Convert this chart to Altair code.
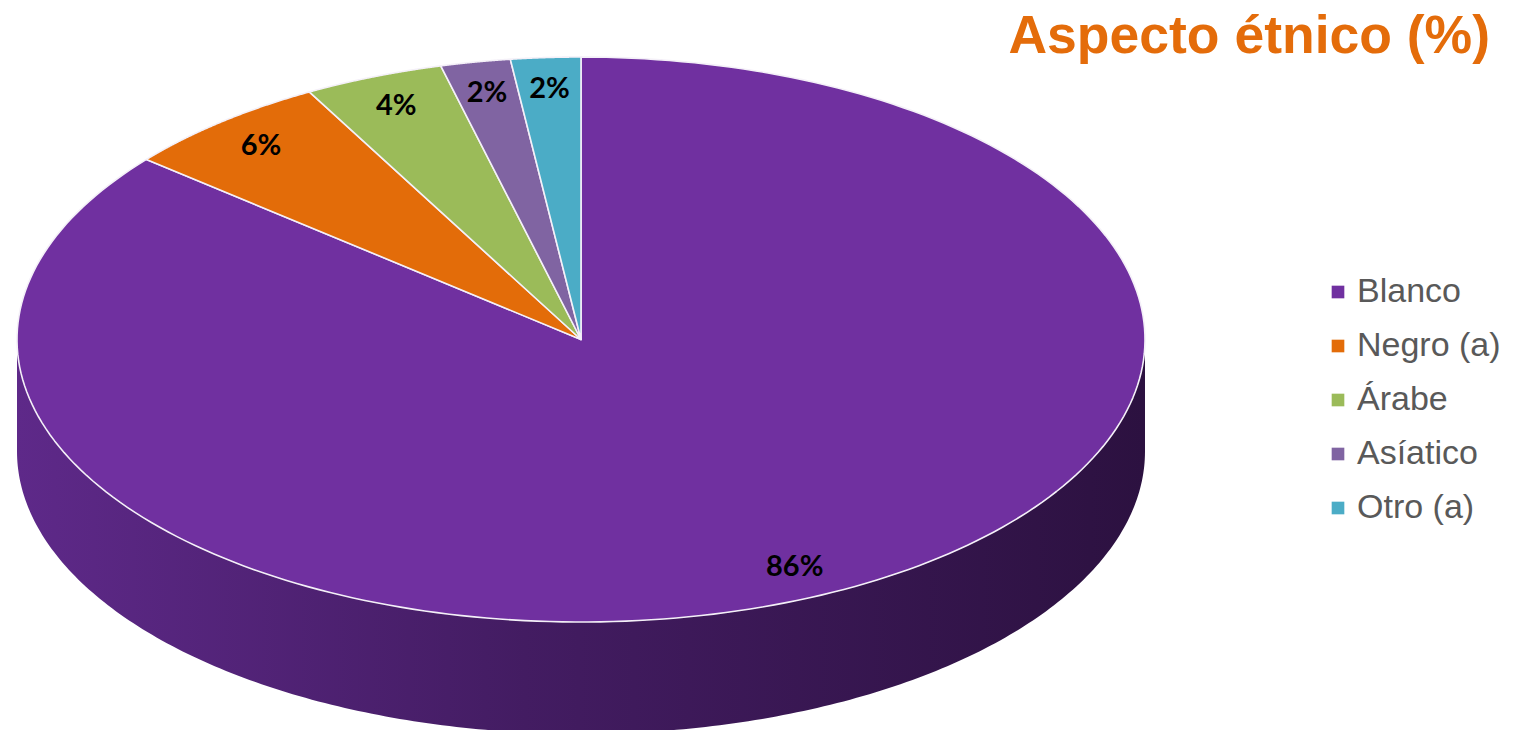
import altair as alt
import pandas as pd

# ---- data ----
categories = ["Blanco", "Negro (a)", "Árabe", "Asíatico", "Otro (a)"]
values = [86, 6, 4, 2, 2]
value_labels = ["86%", "6%", "4%", "2%", "2%"]
colors = ["#7030A0", "#E36C09", "#9BBB59", "#8064A2", "#4BACC6"]
title_text = "Aspecto étnico (%)"

df = pd.DataFrame({
    "cat": categories,
    "value": values,
    "label": value_labels,
    "ord": list(range(len(categories))),
})

# ---- layout parameters (ellipse drawn through scales) ----
W, H = 1502, 722
X_DOM = [-1.01596, 1.64716]
Y_DOM = [-1.3823, 1.1735]
DEPTH = 0.396
N = 240
LABEL_R = 0.89

xs = alt.Scale(domain=X_DOM, nice=False, zero=False)
ys = alt.Scale(domain=Y_DOM, nice=False, zero=False)
color_scale = alt.Scale(domain=categories, range=colors)

base = (
    alt.Chart(df)
    .transform_joinaggregate(total="sum(value)")
    .transform_window(cum="sum(value)", sort=[alt.SortField("ord", order="ascending")])
    .transform_calculate(
        a0="2*PI*(datum.cum - datum.value)/datum.total",
        a1="2*PI*datum.cum/datum.total",
    )
)

# side (3-D rim), only where the slice faces the viewer
side = (
    base.transform_calculate(
        s0="max(datum.a0, PI/2)",
        s1="min(datum.a1, 3*PI/2)",
    )
    .transform_filter("datum.s1 > datum.s0")
    .transform_calculate(seq=f"sequence(0, {N + 1})")
    .transform_flatten(["seq"], as_=["k"])
    .transform_calculate(
        ang=f"datum.s0 + (datum.s1 - datum.s0)*datum.k/{N}",
    )
    .transform_calculate(
        px="sin(datum.ang)",
        py="cos(datum.ang)",
        py2=f"cos(datum.ang) - {DEPTH}",
    )
    .mark_area(
        clip=True,
        color=alt.Gradient(
            gradient="linear",
            stops=[
                alt.GradientStop(color="#5e2989", offset=0),
                alt.GradientStop(color="#431c62", offset=0.45),
                alt.GradientStop(color="#2c1140", offset=1),
            ],
            x1=0, x2=1, y1=0, y2=0,
        ),
    )
    .encode(
        x=alt.X("px:Q", scale=xs, axis=None),
        y=alt.Y("py:Q", scale=ys, axis=None),
        y2="py2:Q",
    )
)

# top face wedges
wedges = (
    base.transform_calculate(seq=f"sequence(0, {N + 2})")
    .transform_flatten(["seq"], as_=["k"])
    .transform_calculate(
        ang=f"datum.a0 + (datum.a1 - datum.a0)*(datum.k - 1)/{N}",
    )
    .transform_calculate(
        px="datum.k == 0 ? 0 : sin(datum.ang)",
        py="datum.k == 0 ? 0 : cos(datum.ang)",
    )
    .mark_line(
        filled=True,
        interpolate="linear-closed",
        stroke="#f4f0f8",
        strokeWidth=1.6,
        strokeJoin="round",
        clip=True,
    )
    .encode(
        x=alt.X("px:Q", scale=xs, axis=None),
        y=alt.Y("py:Q", scale=ys, axis=None),
        color=alt.Color(
            "cat:N",
            scale=color_scale,
            legend=alt.Legend(
                title=None,
                orient="none",
                legendX=1313,
                legendY=267,
                symbolType="square",
                symbolSize=160,
                symbolStrokeWidth=0,
                labelFont="Liberation Sans",
                labelFontSize=34,
                labelColor="#595959",
                labelOffset=2,
                rowPadding=20,
                padding=0,
            ),
        ),
        detail="cat:N",
        order=alt.Order("k:Q"),
    )
)

labels = (
    base.transform_calculate(mid="(datum.a0 + datum.a1)/2")
    .transform_calculate(
        lx=f"{LABEL_R}*sin(datum.mid)",
        ly=f"{LABEL_R}*cos(datum.mid)",
    )
    .mark_text(font="Lato", fontWeight="bold", fontSize=29, color="#000000",
               align="center", baseline="middle")
    .encode(
        x=alt.X("lx:Q", scale=xs, axis=None),
        y=alt.Y("ly:Q", scale=ys, axis=None),
        text="label:N",
    )
)

title = (
    alt.Chart(pd.DataFrame({"t": [title_text]}))
    .mark_text(font="Liberation Sans", fontWeight="bold", fontSize=53.5,
               color="#E46C0A", align="right", baseline="alphabetic")
    .encode(text="t:N", x=alt.value(1482), y=alt.value(45))
)

chart = (
    alt.layer(side, wedges, labels, title)
    .properties(width=W, height=H, autosize=alt.AutoSizeParams(type="none"), padding=0)
    .configure_view(stroke=None)
)

chart.save("out.html", embed_options={"renderer": "svg", "actions": False})
